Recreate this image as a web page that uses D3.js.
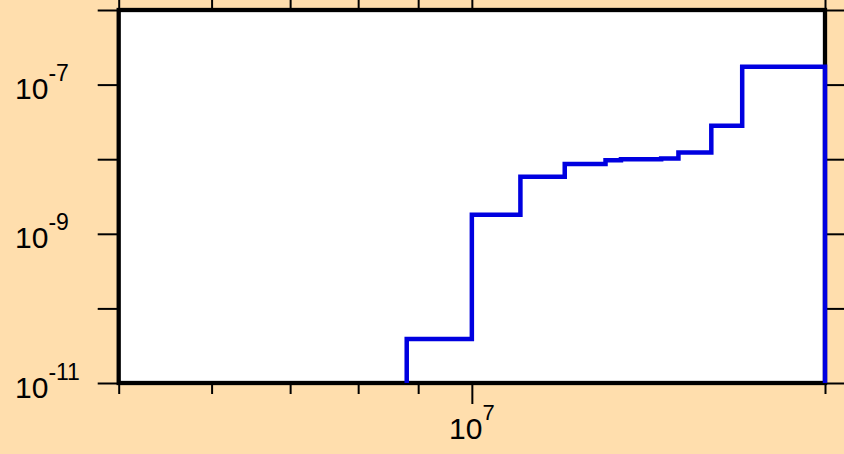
<!DOCTYPE html>
<html>
<head>
<meta charset="utf-8">
<script src="https://cdn.jsdelivr.net/npm/d3@7"></script>
<style>
  html, body { margin: 0; padding: 0; background: #FFDEAD; }
  svg { display: block; }
  text { font-family: "Liberation Sans", Arial, Helvetica, sans-serif; fill: #000; }
</style>
</head>
<body>
<svg id="chart" width="844" height="454"></svg>
<script>
// Histogram bin edges (x) and per-bin values (y)
const binEdges = [8.8e6, 1.0e7, 1.1e7, 1.2e7, 1.3e7, 1.34e7, 1.4e7, 1.45e7, 1.5e7, 1.6e7, 1.7e7, 2.0e7];
const binValues = [3.9e-11, 1.8e-9, 5.8e-9, 8.6e-9, 9.7e-9, 9.95e-9, 1.0e-8, 1.02e-8, 1.23e-8, 2.8e-8, 1.73e-7];

// Axis ranges and ticks
const xDomain = [5e6, 2e7];
const yDomain = [1e-11, 1e-6];
const xMinorTicks = [5e6, 6e6, 7e6, 8e6, 9e6, 2e7];
const xMajorTicks = [1e7];
const xLabelExponents = [7];
const yTicks = [1e-11, 1e-10, 1e-9, 1e-8, 1e-7, 1e-6];
const yLabelExponents = [-11, -9, -7];

const svg = d3.select("#chart");
const W = 844, H = 454;
const plot = { left: 118.7, right: 825, top: 10, bottom: 383 };

svg.append("rect").attr("width", W).attr("height", H).attr("fill", "#FFDEAD");

const x = d3.scaleLog().domain(xDomain).range([plot.left, plot.right]);
const y = d3.scaleLog().domain(yDomain).range([plot.bottom, plot.top]);

// plot background
svg.append("rect")
  .attr("x", plot.left).attr("y", plot.top)
  .attr("width", plot.right - plot.left).attr("height", plot.bottom - plot.top)
  .attr("fill", "#fff");

function styleAxis(g) {
  g.select(".domain").remove();
  g.selectAll(".tick line").attr("stroke", "#000").attr("stroke-width", 2);
  g.selectAll(".tick text").remove();
}

// bottom axis: minor and major ticks
svg.append("g").attr("transform", `translate(0,${plot.bottom})`)
  .call(d3.axisBottom(x).tickValues(xMinorTicks).tickSize(11).tickFormat(""))
  .call(styleAxis);
svg.append("g").attr("transform", `translate(0,${plot.bottom})`)
  .call(d3.axisBottom(x).tickValues(xMajorTicks).tickSize(21).tickFormat(""))
  .call(styleAxis);
// top axis
svg.append("g").attr("transform", `translate(0,${plot.top})`)
  .call(d3.axisTop(x).tickValues(xMinorTicks).tickSize(11).tickFormat(""))
  .call(styleAxis);
svg.append("g").attr("transform", `translate(0,${plot.top})`)
  .call(d3.axisTop(x).tickValues(xMajorTicks).tickSize(21).tickFormat(""))
  .call(styleAxis);
// left and right axes
svg.append("g").attr("transform", `translate(${plot.left},0)`)
  .call(d3.axisLeft(y).tickValues(yTicks).tickSize(21).tickFormat(""))
  .call(styleAxis);
svg.append("g").attr("transform", `translate(${plot.right},0)`)
  .call(d3.axisRight(y).tickValues(yTicks).tickSize(21).tickFormat(""))
  .call(styleAxis);

// x tick labels (powers of ten)
xLabelExponents.forEach(e => {
  const t = svg.append("text")
    .attr("x", x(Math.pow(10, e)))
    .attr("y", 439)
    .attr("text-anchor", "middle")
    .style("font-size", "30px");
  t.append("tspan").text("10");
  t.append("tspan").attr("dy", -19).style("font-size", "22px").text(String(e));
});

// y tick labels (powers of ten)
yLabelExponents.forEach(e => {
  const t = svg.append("text")
    .attr("x", 15)
    .attr("y", y(Math.pow(10, e)) + 14.5)
    .attr("text-anchor", "start")
    .style("font-size", "30px");
  t.append("tspan").text("10");
  t.append("tspan").attr("dy", -18).style("font-size", "23px").text(String(e));
});

// frame
svg.append("rect")
  .attr("x", plot.left).attr("y", plot.top)
  .attr("width", plot.right - plot.left).attr("height", plot.bottom - plot.top)
  .attr("fill", "none").attr("stroke", "#000").attr("stroke-width", 4.3);

// histogram outline
const floor = yDomain[0];
const pts = [[binEdges[0], floor]];
binValues.forEach((v, i) => {
  pts.push([binEdges[i], v]);
  pts.push([binEdges[i + 1], v]);
});
pts.push([binEdges[binEdges.length - 1], floor]);

const line = d3.line().x(d => x(d[0])).y(d => y(d[1]));
svg.append("path")
  .datum(pts)
  .attr("d", line)
  .attr("fill", "none")
  .attr("stroke", "#0000e0")
  .attr("stroke-width", 4.5)
  .attr("stroke-linejoin", "miter")
  .attr("stroke-linecap", "butt");
</script>
</body>
</html>
